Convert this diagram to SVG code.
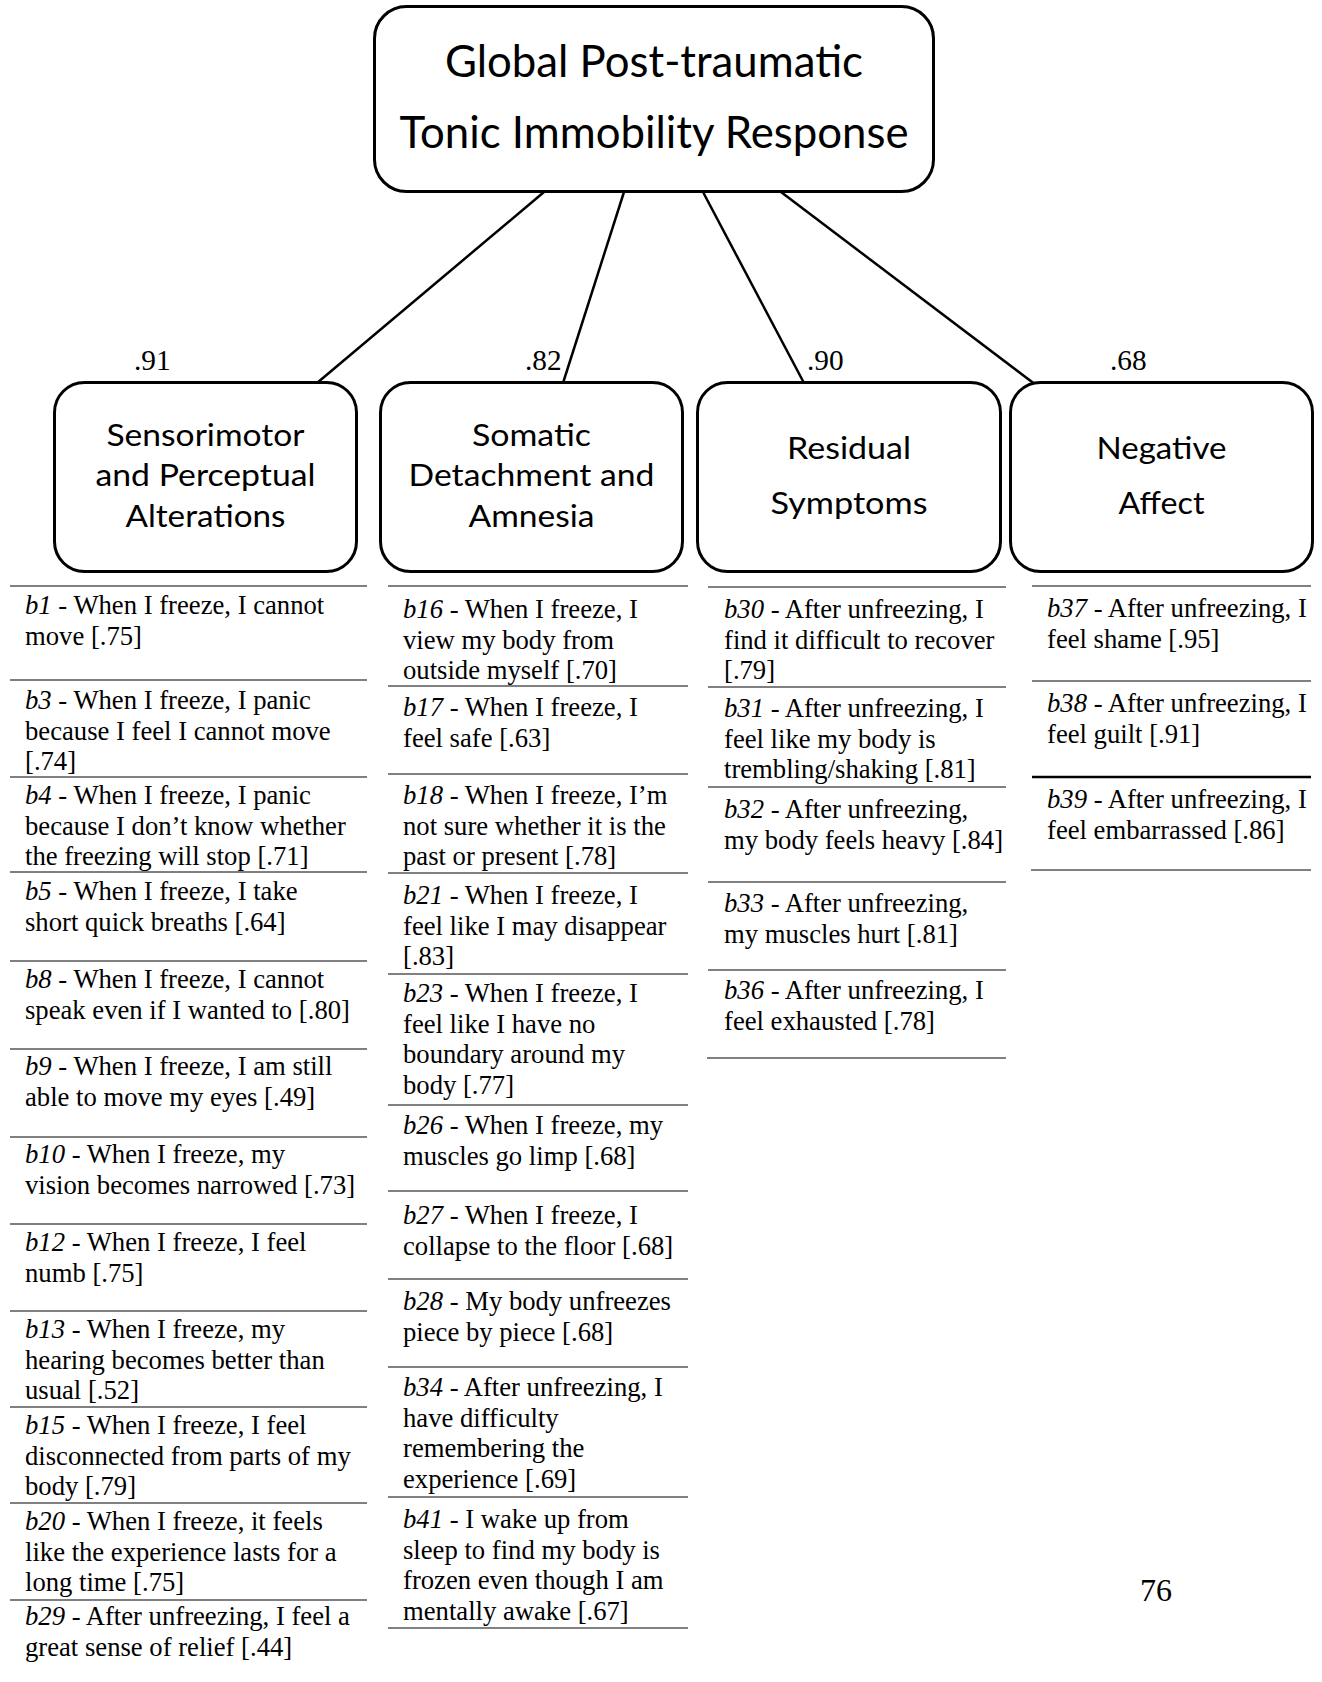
<svg xmlns="http://www.w3.org/2000/svg" width="1322" height="1682" viewBox="0 0 1322 1682">
<style>
.box{fill:#fff;stroke:#000;stroke-width:3}
.conn{stroke:#000;stroke-width:2.5;fill:none}
.rule{stroke:#808080;stroke-width:2}
.rule-dark{stroke:#000;stroke-width:2.5}
.title{font-family:Lato,"Open Sans","Liberation Sans",sans-serif;font-size:44px;text-anchor:middle;fill:#000}
.cat{font-family:Lato,"Open Sans","Liberation Sans",sans-serif;font-size:31px;text-anchor:middle;fill:#000}
.lbl{font-family:"Liberation Serif","Times New Roman",serif;font-size:29.3px;fill:#000}
.item{font-family:"Liberation Serif","Times New Roman",serif;font-size:26.67px;fill:#000}
.item .c{font-style:italic}
</style>
<rect width="1322" height="1682" fill="#fff"/>

<g id="connectors">
<line class="conn" x1="544" y1="192" x2="317" y2="383"/>
<line class="conn" x1="624" y1="192" x2="563" y2="383"/>
<line class="conn" x1="703" y1="192" x2="804" y2="383"/>
<line class="conn" x1="781" y1="192" x2="1036" y2="385"/>
</g>

<g id="node-global">
<rect class="box" x="374.5" y="6.5" width="559" height="185" rx="32"/>
<text class="title" x="654" y="77" textLength="418" lengthAdjust="spacingAndGlyphs">Global Post-traumatic</text>
<text class="title" x="654" y="148" textLength="509" lengthAdjust="spacingAndGlyphs">Tonic Immobility Response</text>
</g>

<g id="loadings">
<text class="lbl" x="134" y="370">.91</text>
<text class="lbl" x="525" y="370">.82</text>
<text class="lbl" x="807" y="370">.90</text>
<text class="lbl" x="1110" y="370">.68</text>
</g>

<g id="node-sensorimotor">
<rect class="box" x="54.5" y="382.5" width="302" height="189" rx="30"/>
<text class="cat" x="205.5" y="446" textLength="198" lengthAdjust="spacingAndGlyphs">Sensorimotor</text>
<text class="cat" x="205.5" y="486" textLength="220" lengthAdjust="spacingAndGlyphs">and Perceptual</text>
<text class="cat" x="205.5" y="527" textLength="160" lengthAdjust="spacingAndGlyphs">Alterations</text>
</g>

<g id="node-somatic">
<rect class="box" x="380.5" y="382.5" width="302" height="189" rx="30"/>
<text class="cat" x="531.5" y="446" textLength="119" lengthAdjust="spacingAndGlyphs">Somatic</text>
<text class="cat" x="531.5" y="486" textLength="246" lengthAdjust="spacingAndGlyphs">Detachment and</text>
<text class="cat" x="531.5" y="527" textLength="126" lengthAdjust="spacingAndGlyphs">Amnesia</text>
</g>

<g id="node-residual">
<rect class="box" x="697.5" y="382.5" width="303" height="189" rx="30"/>
<text class="cat" x="849" y="459" textLength="124" lengthAdjust="spacingAndGlyphs">Residual</text>
<text class="cat" x="849" y="514" textLength="157" lengthAdjust="spacingAndGlyphs">Symptoms</text>
</g>

<g id="node-negative">
<rect class="box" x="1010.5" y="382.5" width="302" height="189" rx="30"/>
<text class="cat" x="1161.5" y="459" textLength="130" lengthAdjust="spacingAndGlyphs">Negative</text>
<text class="cat" x="1161.5" y="514" textLength="86" lengthAdjust="spacingAndGlyphs">Affect</text>
</g>

<g id="rules">
<line class="rule" x1="10" y1="586" x2="367" y2="586"/>
<line class="rule" x1="10" y1="680" x2="367" y2="680"/>
<line class="rule" x1="10" y1="777" x2="367" y2="777"/>
<line class="rule" x1="10" y1="872" x2="367" y2="872"/>
<line class="rule" x1="10" y1="961" x2="367" y2="961"/>
<line class="rule" x1="10" y1="1049" x2="367" y2="1049"/>
<line class="rule" x1="10" y1="1137" x2="367" y2="1137"/>
<line class="rule" x1="10" y1="1224" x2="367" y2="1224"/>
<line class="rule" x1="10" y1="1311" x2="367" y2="1311"/>
<line class="rule" x1="10" y1="1407" x2="367" y2="1407"/>
<line class="rule" x1="10" y1="1503" x2="367" y2="1503"/>
<line class="rule" x1="10" y1="1600" x2="367" y2="1600"/>

<line class="rule" x1="388" y1="586" x2="688" y2="586"/>
<line class="rule" x1="388" y1="686" x2="688" y2="686"/>
<line class="rule" x1="388" y1="774" x2="688" y2="774"/>
<line class="rule" x1="388" y1="873" x2="688" y2="873"/>
<line class="rule" x1="388" y1="974" x2="688" y2="974"/>
<line class="rule" x1="388" y1="1105" x2="688" y2="1105"/>
<line class="rule" x1="388" y1="1191" x2="688" y2="1191"/>
<line class="rule" x1="388" y1="1279" x2="688" y2="1279"/>
<line class="rule" x1="388" y1="1367" x2="688" y2="1367"/>
<line class="rule" x1="388" y1="1497" x2="688" y2="1497"/>
<line class="rule" x1="388" y1="1628" x2="688" y2="1628"/>

<line class="rule" x1="708" y1="587" x2="1006" y2="587"/>
<line class="rule" x1="708" y1="687" x2="1006" y2="687"/>
<line class="rule" x1="708" y1="787" x2="1006" y2="787"/>
<line class="rule" x1="708" y1="882" x2="1006" y2="882"/>
<line class="rule" x1="708" y1="970" x2="1006" y2="970"/>
<line class="rule" x1="707" y1="1058" x2="1006" y2="1058"/>

<line class="rule" x1="1032" y1="586" x2="1311" y2="586"/>
<line class="rule" x1="1032" y1="681" x2="1311" y2="681"/>
<line class="rule-dark" x1="1032" y1="777" x2="1311" y2="777"/>
<line class="rule" x1="1031" y1="870" x2="1311" y2="870"/>
</g>

<g id="item-b1"><text class="item" x="25" y="614"><tspan class="c">b1</tspan> - When I freeze, I cannot<tspan x="25" dy="30.5">move [.75]</tspan></text></g>
<g id="item-b3"><text class="item" x="25" y="709"><tspan class="c">b3</tspan> - When I freeze, I panic<tspan x="25" dy="30.5">because I feel I cannot move</tspan><tspan x="25" dy="30.5">[.74]</tspan></text></g>
<g id="item-b4"><text class="item" x="25" y="804"><tspan class="c">b4</tspan> - When I freeze, I panic<tspan x="25" dy="30.5">because I don’t know whether</tspan><tspan x="25" dy="30.5">the freezing will stop [.71]</tspan></text></g>
<g id="item-b5"><text class="item" x="25" y="900"><tspan class="c">b5</tspan> - When I freeze, I take<tspan x="25" dy="30.5">short quick breaths [.64]</tspan></text></g>
<g id="item-b8"><text class="item" x="25" y="988"><tspan class="c">b8</tspan> - When I freeze, I cannot<tspan x="25" dy="30.5">speak even if I wanted to [.80]</tspan></text></g>
<g id="item-b9"><text class="item" x="25" y="1075"><tspan class="c">b9</tspan> - When I freeze, I am still<tspan x="25" dy="30.5">able to move my eyes [.49]</tspan></text></g>
<g id="item-b10"><text class="item" x="25" y="1163"><tspan class="c">b10</tspan> - When I freeze, my<tspan x="25" dy="30.5">vision becomes narrowed [.73]</tspan></text></g>
<g id="item-b12"><text class="item" x="25" y="1251"><tspan class="c">b12</tspan> - When I freeze, I feel<tspan x="25" dy="30.5">numb [.75]</tspan></text></g>
<g id="item-b13"><text class="item" x="25" y="1338"><tspan class="c">b13</tspan> - When I freeze, my<tspan x="25" dy="30.5">hearing becomes better than</tspan><tspan x="25" dy="30.5">usual [.52]</tspan></text></g>
<g id="item-b15"><text class="item" x="25" y="1434"><tspan class="c">b15</tspan> - When I freeze, I feel<tspan x="25" dy="30.5">disconnected from parts of my</tspan><tspan x="25" dy="30.5">body [.79]</tspan></text></g>
<g id="item-b20"><text class="item" x="25" y="1530"><tspan class="c">b20</tspan> - When I freeze, it feels<tspan x="25" dy="30.5">like the experience lasts for a</tspan><tspan x="25" dy="30.5">long time [.75]</tspan></text></g>
<g id="item-b29"><text class="item" x="25" y="1625"><tspan class="c">b29</tspan> - After unfreezing, I feel a<tspan x="25" dy="30.5">great sense of relief [.44]</tspan></text></g>

<g id="item-b16"><text class="item" x="403" y="618"><tspan class="c">b16</tspan> - When I freeze, I<tspan x="403" dy="30.5">view my body from</tspan><tspan x="403" dy="30.5">outside myself [.70]</tspan></text></g>
<g id="item-b17"><text class="item" x="403" y="716"><tspan class="c">b17</tspan> - When I freeze, I<tspan x="403" dy="30.5">feel safe [.63]</tspan></text></g>
<g id="item-b18"><text class="item" x="403" y="804"><tspan class="c">b18</tspan> - When I freeze, I’m<tspan x="403" dy="30.5">not sure whether it is the</tspan><tspan x="403" dy="30.5">past or present [.78]</tspan></text></g>
<g id="item-b21"><text class="item" x="403" y="904"><tspan class="c">b21</tspan> - When I freeze, I<tspan x="403" dy="30.5">feel like I may disappear</tspan><tspan x="403" dy="30.5">[.83]</tspan></text></g>
<g id="item-b23"><text class="item" x="403" y="1002"><tspan class="c">b23</tspan> - When I freeze, I<tspan x="403" dy="30.5">feel like I have no</tspan><tspan x="403" dy="30.5">boundary around my</tspan><tspan x="403" dy="30.5">body [.77]</tspan></text></g>
<g id="item-b26"><text class="item" x="403" y="1134"><tspan class="c">b26</tspan> - When I freeze, my<tspan x="403" dy="30.5">muscles go limp [.68]</tspan></text></g>
<g id="item-b27"><text class="item" x="403" y="1224"><tspan class="c">b27</tspan> - When I freeze, I<tspan x="403" dy="30.5">collapse to the floor [.68]</tspan></text></g>
<g id="item-b28"><text class="item" x="403" y="1310"><tspan class="c">b28</tspan> - My body unfreezes<tspan x="403" dy="30.5">piece by piece [.68]</tspan></text></g>
<g id="item-b34"><text class="item" x="403" y="1396"><tspan class="c">b34</tspan> - After unfreezing, I<tspan x="403" dy="30.5">have difficulty</tspan><tspan x="403" dy="30.5">remembering the</tspan><tspan x="403" dy="30.5">experience [.69]</tspan></text></g>
<g id="item-b41"><text class="item" x="403" y="1528"><tspan class="c">b41</tspan> - I wake up from<tspan x="403" dy="30.5">sleep to find my body is</tspan><tspan x="403" dy="30.5">frozen even though I am</tspan><tspan x="403" dy="30.5">mentally awake [.67]</tspan></text></g>

<g id="item-b30"><text class="item" x="724" y="618"><tspan class="c">b30</tspan> - After unfreezing, I<tspan x="724" dy="30.5">find it difficult to recover</tspan><tspan x="724" dy="30.5">[.79]</tspan></text></g>
<g id="item-b31"><text class="item" x="724" y="717"><tspan class="c">b31</tspan> - After unfreezing, I<tspan x="724" dy="30.5">feel like my body is</tspan><tspan x="724" dy="30.5">trembling/shaking [.81]</tspan></text></g>
<g id="item-b32"><text class="item" x="724" y="818"><tspan class="c">b32</tspan> - After unfreezing,<tspan x="724" dy="30.5">my body feels heavy [.84]</tspan></text></g>
<g id="item-b33"><text class="item" x="724" y="912"><tspan class="c">b33</tspan> - After unfreezing,<tspan x="724" dy="30.5">my muscles hurt [.81]</tspan></text></g>
<g id="item-b36"><text class="item" x="724" y="999"><tspan class="c">b36</tspan> - After unfreezing, I<tspan x="724" dy="30.5">feel exhausted [.78]</tspan></text></g>

<g id="item-b37"><text class="item" x="1047" y="617"><tspan class="c">b37</tspan> - After unfreezing, I<tspan x="1047" dy="30.5">feel shame [.95]</tspan></text></g>
<g id="item-b38"><text class="item" x="1047" y="712"><tspan class="c">b38</tspan> - After unfreezing, I<tspan x="1047" dy="30.5">feel guilt [.91]</tspan></text></g>
<g id="item-b39"><text class="item" x="1047" y="808"><tspan class="c">b39</tspan> - After unfreezing, I<tspan x="1047" dy="30.5">feel embarrassed [.86]</tspan></text></g>

<text x="1140" y="1601" font-family="Liberation Serif, Times New Roman, serif" font-size="32" fill="#000">76</text>
</svg>
